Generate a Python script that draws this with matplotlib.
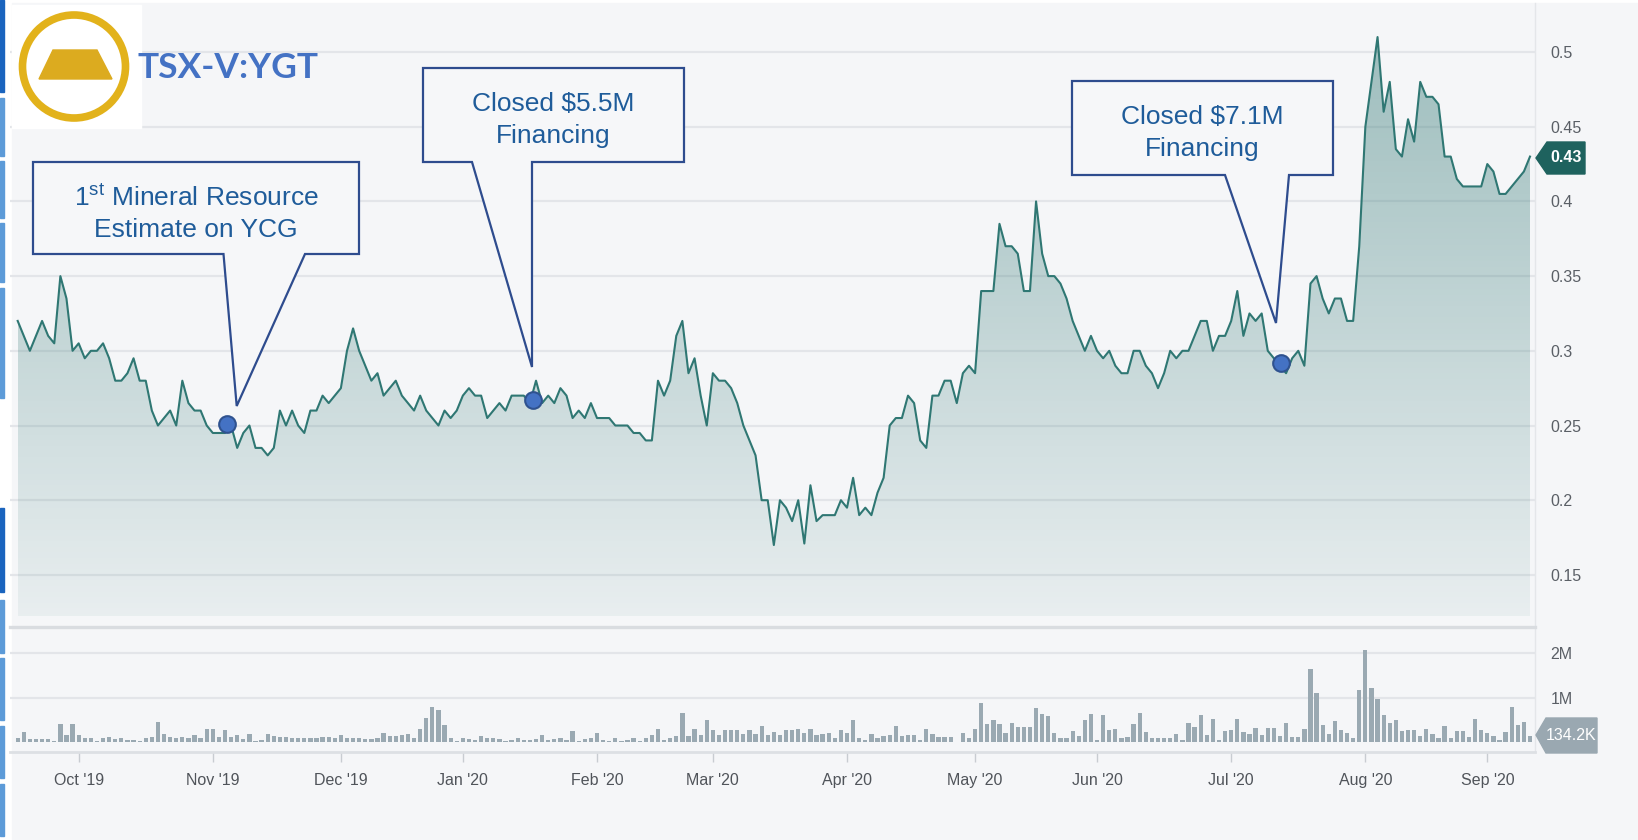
import numpy as np
import pandas as pd
import matplotlib
matplotlib.use('Agg')
import matplotlib.pyplot as plt
from matplotlib.patches import Polygon, Circle, Rectangle

plt.rcParams['font.family'] = ['Liberation Sans', 'DejaVu Sans']
plt.rcParams['mathtext.fontset'] = 'custom'
plt.rcParams['mathtext.rm'] = 'Liberation Sans'

# ---- data ----
holidays = ['2019-10-14', '2019-12-25', '2019-12-26', '2020-01-01', '2020-02-17',
            '2020-04-10', '2020-05-18', '2020-07-01', '2020-08-03', '2020-09-07']
dates = pd.bdate_range('2019-09-17', '2020-09-11', freq='C', holidays=holidays)

price = [
    0.32, 0.31, 0.30, 0.31, 0.32, 0.31, 0.305, 0.35, 0.335, 0.30,
    0.305, 0.295, 0.30, 0.30, 0.305, 0.295, 0.28, 0.28, 0.285, 0.295,
    0.28, 0.28, 0.26, 0.25, 0.255, 0.26, 0.25, 0.28, 0.265, 0.26,
    0.26, 0.25, 0.245, 0.245, 0.245, 0.25, 0.235, 0.245, 0.25, 0.235,
    0.235, 0.23, 0.235, 0.26, 0.25, 0.26, 0.25, 0.245, 0.26, 0.26,
    0.27, 0.265, 0.27, 0.275, 0.30, 0.315, 0.30, 0.29, 0.28, 0.285,
    0.27, 0.275, 0.28, 0.27, 0.265, 0.26, 0.27, 0.26, 0.255, 0.25,
    0.26, 0.255, 0.26, 0.27, 0.275, 0.27, 0.27, 0.255, 0.26, 0.265,
    0.26, 0.27, 0.27, 0.27, 0.265, 0.28, 0.265, 0.27, 0.265, 0.275,
    0.27, 0.255, 0.26, 0.255, 0.265, 0.255, 0.255, 0.255, 0.25, 0.25,
    0.25, 0.245, 0.245, 0.24, 0.24, 0.28, 0.27, 0.28, 0.31, 0.32,
    0.285, 0.295, 0.27, 0.25, 0.285, 0.28, 0.28, 0.275, 0.265, 0.25,
    0.24, 0.23, 0.20, 0.20, 0.17, 0.20, 0.195, 0.186, 0.20, 0.171,
    0.21, 0.186, 0.19, 0.19, 0.19, 0.20, 0.195, 0.215, 0.19, 0.195,
    0.19, 0.205, 0.215, 0.25, 0.255, 0.255, 0.27, 0.265, 0.24, 0.235,
    0.27, 0.27, 0.28, 0.28, 0.265, 0.285, 0.29, 0.285, 0.34, 0.34,
    0.34, 0.385, 0.37, 0.37, 0.365, 0.34, 0.34, 0.40, 0.365, 0.35,
    0.35, 0.345, 0.335, 0.32, 0.31, 0.30, 0.31, 0.30, 0.295, 0.30,
    0.29, 0.285, 0.285, 0.30, 0.30, 0.29, 0.285, 0.275, 0.285, 0.30,
    0.295, 0.30, 0.30, 0.31, 0.32, 0.32, 0.30, 0.31, 0.31, 0.32,
    0.34, 0.31, 0.325, 0.32, 0.325, 0.30, 0.295, 0.29, 0.285, 0.295,
    0.30, 0.29, 0.345, 0.35, 0.335, 0.325, 0.335, 0.335, 0.32, 0.32,
    0.37, 0.45, 0.48, 0.51, 0.46, 0.48, 0.435, 0.43, 0.455, 0.44,
    0.48, 0.47, 0.47, 0.465, 0.43, 0.43, 0.415, 0.41, 0.41, 0.41,
    0.41, 0.425, 0.42, 0.405, 0.405, 0.41, 0.415, 0.42, 0.43,
]

# volume in millions of shares
volume = [
    0.10, 0.22, 0.06, 0.06, 0.06, 0.06, 0.02, 0.41, 0.15, 0.40,
    0.15, 0.08, 0.08, 0.03, 0.10, 0.12, 0.07, 0.10, 0.05, 0.05,
    0.03, 0.10, 0.11, 0.45, 0.18, 0.12, 0.10, 0.12, 0.10, 0.15,
    0.10, 0.30, 0.30, 0.12, 0.26, 0.12, 0.15, 0.07, 0.18, 0.02,
    0.05, 0.19, 0.14, 0.12, 0.12, 0.10, 0.10, 0.08, 0.10, 0.10,
    0.12, 0.12, 0.10, 0.15, 0.10, 0.08, 0.08, 0.06, 0.06, 0.08,
    0.20, 0.14, 0.13, 0.15, 0.17, 0.08, 0.30, 0.55, 0.80, 0.73,
    0.38, 0.08, 0.03, 0.08, 0.06, 0.04, 0.14, 0.08, 0.08, 0.06,
    0.02, 0.04, 0.08, 0.04, 0.04, 0.06, 0.16, 0.04, 0.06, 0.10,
    0.04, 0.25, 0.02, 0.06, 0.10, 0.20, 0.04, 0.02, 0.08, 0.02,
    0.04, 0.10, 0.03, 0.08, 0.16, 0.30, 0.05, 0.10, 0.14, 0.65,
    0.14, 0.30, 0.15, 0.49, 0.26, 0.16, 0.28, 0.26, 0.28, 0.18,
    0.26, 0.18, 0.35, 0.15, 0.22, 0.15, 0.28, 0.26, 0.30, 0.20,
    0.30, 0.16, 0.19, 0.20, 0.09, 0.26, 0.21, 0.50, 0.10, 0.05,
    0.17, 0.08, 0.13, 0.16, 0.35, 0.13, 0.15, 0.15, 0.04, 0.30,
    0.19, 0.11, 0.11, 0.11, 0.01, 0.20, 0.08, 0.30, 0.89, 0.40,
    0.50, 0.40, 0.20, 0.43, 0.34, 0.34, 0.34, 0.77, 0.64, 0.58,
    0.20, 0.10, 0.10, 0.24, 0.13, 0.49, 0.64, 0.05, 0.60, 0.28,
    0.30, 0.08, 0.11, 0.41, 0.65, 0.23, 0.08, 0.08, 0.08, 0.10,
    0.17, 0.05, 0.43, 0.34, 0.60, 0.15, 0.51, 0.05, 0.25, 0.26,
    0.53, 0.23, 0.19, 0.32, 0.15, 0.32, 0.32, 0.13, 0.44, 0.11,
    0.11, 0.30, 1.64, 1.11, 0.38, 0.19, 0.47, 0.26, 0.20, 0.09,
    1.18, 2.07, 1.23, 0.98, 0.60, 0.43, 0.49, 0.24, 0.26, 0.26,
    0.13, 0.30, 0.17, 0.09, 0.35, 0.09, 0.24, 0.24, 0.11, 0.52,
    0.26, 0.20, 0.13, 0.05, 0.23, 0.79, 0.38, 0.45, 0.1342,
]

price_ticks = [0.15, 0.2, 0.25, 0.3, 0.35, 0.4, 0.45, 0.5]
price_labels = ['0.15', '0.2', '0.25', '0.3', '0.35', '0.4', '0.45', '0.5']
vol_ticks = [1, 2]
vol_labels = ['1M', '2M']

# events: (trading-day position, price)
event_x = [34.4, 84.5, 207.2]
event_y = [0.251, 0.267, 0.292]
event_text = [r"1$^{\rm st}$ Mineral Resource" + "\nEstimate on YCG",
              "Closed $5.5M\nFinancing",
              "Closed $7.1M\nFinancing"]

# ---- layout ----
W, H = 1638, 840
fig = plt.figure(figsize=(W / 100, H / 100), dpi=100)
fig.patch.set_facecolor('white')


def rect(x0, y0, x1, y1):
    return [x0 / W, 1 - y1 / H, (x1 - x0) / W, (y1 - y0) / H]


idx = np.arange(len(price))
price = np.array(price)
n = len(idx)
xlo, xhi = -1.26, 248.82
ylo, yhi = 0.1225, 0.5348

# background panel
bg = fig.add_axes([0, 0, 1, 1], zorder=0)
bg.set_xlim(0, W)
bg.set_ylim(H, 0)
bg.axis('off')
bg.add_patch(Rectangle((12, 3), W - 12, H - 3, color='#f5f6f8'))
for y0, y1, c in [(0, 92, '#1a64be'), (98, 156, '#5d9bd8'), (161, 218, '#5d9bd8'),
                  (223, 282, '#5d9bd8'), (288, 398, '#5d9bd8'), (508, 592, '#1a64be'),
                  (600, 653, '#5d9bd8'), (658, 720, '#5d9bd8'), (726, 778, '#5d9bd8'),
                  (784, 836, '#5d9bd8')]:
    bg.add_patch(Rectangle((0, y0), 4, y1 - y0, color=c))
bg.plot([1535, 1535], [3, 752], color='#e4e6e9', lw=1)

# price pane
ax = fig.add_axes(rect(10, 0, 1535, 616), zorder=2)
ax.patch.set_alpha(0)

grad = np.zeros((256, 1, 4))
grad[..., 0], grad[..., 1], grad[..., 2] = 0.24, 0.50, 0.49
grad[:, 0, 3] = np.linspace(0.07, 0.50, 256)
im = ax.imshow(grad, extent=[idx[0], idx[-1], ylo, yhi], origin='lower',
               aspect='auto', zorder=1, interpolation='bilinear')
poly = Polygon(np.column_stack([np.r_[idx, idx[::-1]], np.r_[price, np.full(n, ylo)]]),
               closed=True, fc='none', ec='none')
ax.add_patch(poly)
im.set_clip_path(poly)
ax.plot(idx, price, color='#2f7773', lw=1.5, zorder=3)
ax.plot(event_x, event_y, 'o', ms=12, mfc='#4472c4', mec='#2f528f', mew=1.5, zorder=5)

ax.set_xlim(xlo, xhi)
ax.set_ylim(ylo, yhi)
ax.set_yticks(price_ticks)
ax.set_yticklabels(price_labels)
ax.yaxis.tick_right()
ax.tick_params(axis='y', length=0, pad=11, labelsize=11.5, labelcolor='#5a5f66')
ax.set_xticks([])
ax.grid(axis='y', color='#e3e5e9', lw=1.6)
ax.set_axisbelow(True)
for s in ax.spines.values():
    s.set_visible(False)

# volume pane
axv = fig.add_axes(rect(10, 627, 1535, 752), zorder=2)
axv.patch.set_alpha(0)
axv.bar(idx, volume, width=0.7, color='#9aa9b2', zorder=3)
axv.set_xlim(xlo, xhi)
axv.set_ylim(-0.2257, 2.596)
axv.set_yticks(vol_ticks)
axv.set_yticklabels(vol_labels)
axv.yaxis.tick_right()
axv.tick_params(axis='y', length=0, pad=11, labelsize=11.5, labelcolor='#5a5f66')
axv.grid(axis='y', color='#e3e5e9', lw=1.6)
axv.set_axisbelow(True)
for side in ['left', 'right']:
    axv.spines[side].set_visible(False)
axv.spines['top'].set_color('#d9dce0')
axv.spines['top'].set_linewidth(2.4)
axv.spines['bottom'].set_color('#dde0e4')
axv.spines['bottom'].set_linewidth(2.0)

month_pos = [i for i in range(1, n) if dates[i].month != dates[i - 1].month]
month_lab = [dates[i].strftime("%b '%y") for i in month_pos]
axv.set_xticks(month_pos)
axv.set_xticklabels(month_lab)
axv.tick_params(axis='x', length=7, width=1, color='#c8ccd1', pad=8,
                labelsize=11.5, labelcolor='#50545a')

# overlay: logo, callouts, value tags
ov = fig.add_axes([0, 0, 1, 1], zorder=5)
ov.set_xlim(0, W)
ov.set_ylim(H, 0)
ov.axis('off')
ov.patch.set_alpha(0)

ov.add_patch(Rectangle((12, 5), 129, 123, color='white'))
ov.add_patch(Circle((74, 66.5), 51.5, fill=False, ec='#e2b21b', lw=5.5))
ov.add_patch(Polygon([(53, 50), (97, 50), (112, 79), (39, 79)], color='#dcab1f'))
ov.text(137, 68, 'TSX-V:YGT', fontsize=25.5, fontweight='bold', color='#4472c4',
        family=['Lato', 'DejaVu Sans'], va='center', ha='left')

callouts = [
    dict(box=(33, 162, 359, 254), base=(223.5, 305), tip=(236.7, 406)),
    dict(box=(423, 68, 684, 162), base=(472, 532), tip=(532, 367)),
    dict(box=(1072, 81, 1333, 175), base=(1225, 1289), tip=(1276, 323)),
]
for c, txt in zip(callouts, event_text):
    x0, y0, x1, y1 = c['box']
    bl, br = c['base']
    verts = [(x0, y0), (x1, y0), (x1, y1), (br, y1), c['tip'], (bl, y1), (x0, y1)]
    ov.add_patch(Polygon(verts, closed=True, fc='#f6f7f9', ec='#2e4c8e', lw=1.6))
    ov.text((x0 + x1) / 2, (y0 + y1) / 2 + 5, txt, ha='center', va='center',
            fontsize=19, color='#1f5c9a', linespacing=1.38)

ov.add_patch(Polygon([(1536, 158), (1547, 142), (1585, 142), (1585, 174), (1547, 174)],
                     color='#1e625e'))
ov.text(1566, 158, f'{price[-1]:.2f}', ha='center', va='center', fontsize=11.5,
        fontweight='bold', color='white')
ov.add_patch(Polygon([(1536, 735), (1546, 718), (1597, 718), (1597, 753), (1546, 753)],
                     color='#9aa8b1'))
ov.text(1571, 735.5, f'{volume[-1] * 1000:.1f}K', ha='center', va='center',
        fontsize=11.5, color='white')

fig.savefig('out.png', dpi=100, facecolor=fig.get_facecolor())
